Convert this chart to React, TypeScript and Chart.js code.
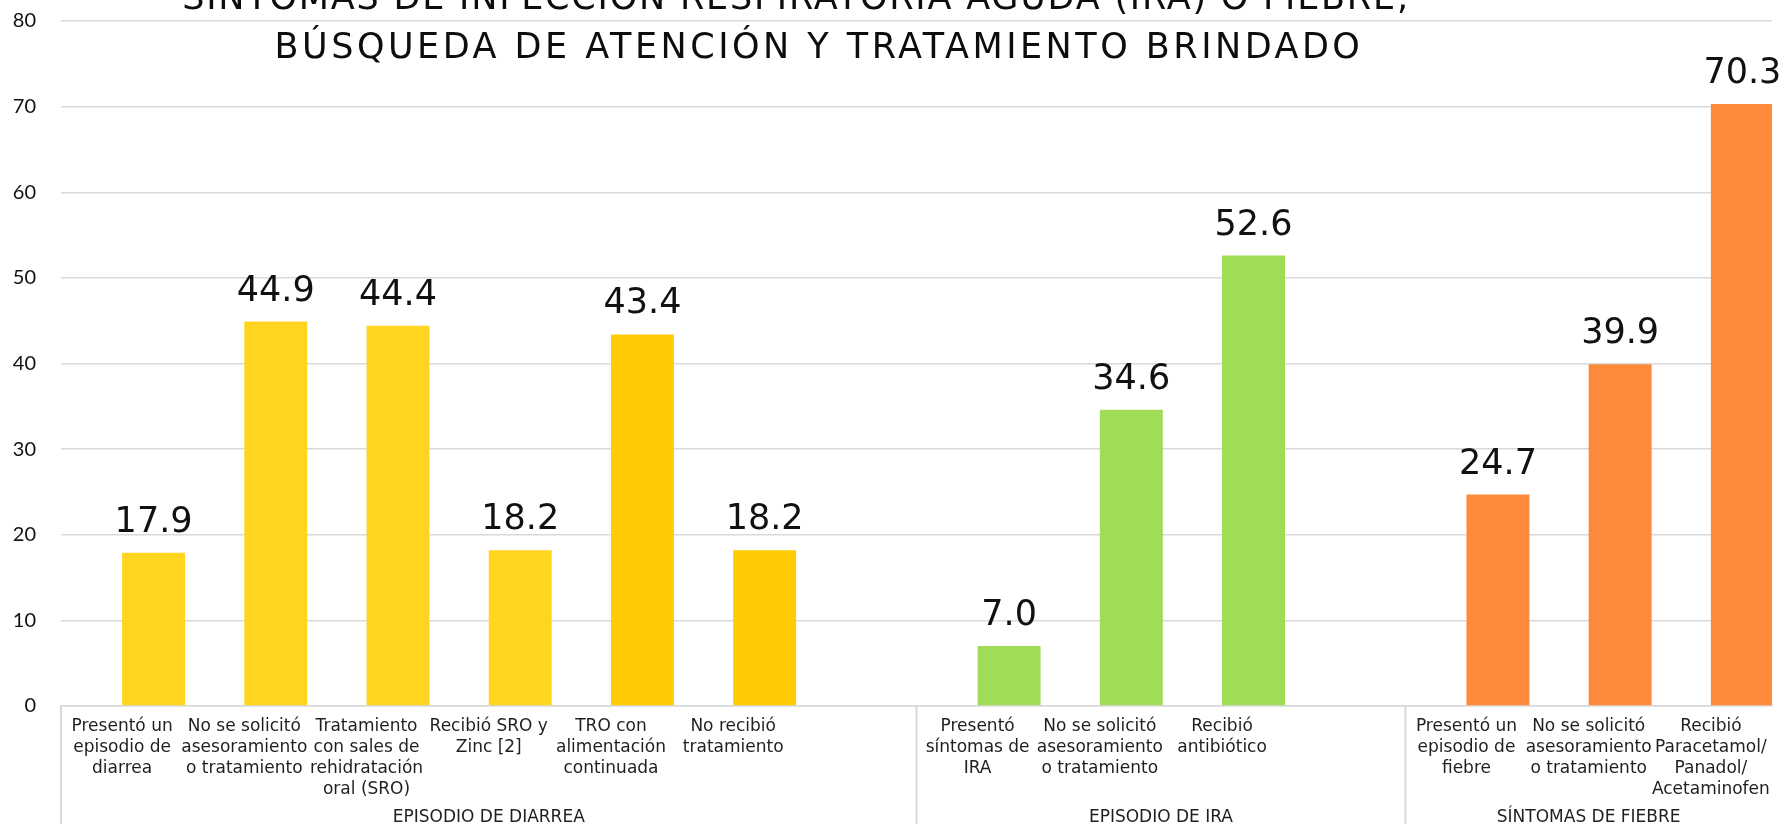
import React, { useEffect, useRef } from "react";
import { Chart, registerables } from "chart.js";

Chart.register(...registerables);

const titleLines = [
  "SÍNTOMAS DE INFECCIÓN RESPIRATORIA AGUDA (IRA) O FIEBRE,",
  "BÚSQUEDA DE ATENCIÓN Y TRATAMIENTO BRINDADO",
];

const categories: string[][] = [
  ["Presentó un", "episodio de", "diarrea"],
  ["No se solicitó", "asesoramiento", "o tratamiento"],
  ["Tratamiento", "con sales de", "rehidratación", "oral (SRO)"],
  ["Recibió SRO y", "Zinc [2]"],
  ["TRO con", "alimentación", "continuada"],
  ["No recibió", "tratamiento"],
  [""],
  ["Presentó", "síntomas de", "IRA"],
  ["No se solicitó", "asesoramiento", "o tratamiento"],
  ["Recibió", "antibiótico"],
  [""],
  ["Presentó un", "episodio de", "fiebre"],
  ["No se solicitó", "asesoramiento", "o tratamiento"],
  ["Recibió", "Paracetamol/", "Panadol/", "Acetaminofen"],
];

const values: (number | null)[] = [
  17.9, 44.9, 44.4, 18.2, 43.4, 18.2, null,
  7.0, 34.6, 52.6, null,
  24.7, 39.9, 70.3,
];

const barColors = [
  "#FFD520", "#FFD520", "#FFD520", "#FFD520", "#FFCB05", "#FFCB05", "#FFD520",
  "#A0DD56", "#A0DD56", "#A0DD56", "#A0DD56",
  "#FD893B", "#FD893B", "#FD893B",
];

const groupLabels = ["EPISODIO DE DIARREA", "EPISODIO DE IRA", "SÍNTOMAS DE FIEBRE"];
const groupSizes = [7, 4, 3];

const yMin = 0;
const yMax = 80;
const yStep = 10;

const TEXT = "#1f1f1f";
const GRID = "#d9d9d9";

const overlayPlugin = {
  id: "overlay",
  afterDatasetsDraw(chart: any) {
    const ctx = chart.ctx;
    const meta = chart.getDatasetMeta(1);
    ctx.save();
    ctx.font = '35px "DejaVu Sans"';
    ctx.fillStyle = "#111111";
    ctx.textAlign = "center";
    ctx.textBaseline = "alphabetic";
    meta.data.forEach((el: any, i: number) => {
      const v = values[i];
      if (v == null) return;
      ctx.fillText(v.toFixed(1), el.x, el.y - 21);
    });
    ctx.restore();
  },
  afterDraw(chart: any) {
    const ctx = chart.ctx;
    const xs = chart.scales.x;
    const area = chart.chartArea;
    const slot = (xs.right - xs.left) / categories.length;
    ctx.save();
    ctx.strokeStyle = GRID;
    ctx.lineWidth = 2;
    let cum = 0;
    groupSizes.forEach((size, gi) => {
      const x0 = xs.left + slot * cum;
      ctx.beginPath();
      ctx.moveTo(x0, area.bottom);
      ctx.lineTo(x0, chart.height);
      ctx.stroke();
      const cx = xs.left + slot * (cum + size / 2);
      ctx.font = '17px "DejaVu Sans"';
      ctx.fillStyle = TEXT;
      ctx.textAlign = "center";
      ctx.textBaseline = "alphabetic";
      ctx.fillText(groupLabels[gi], cx, 822);
      cum += size;
    });
    ctx.font = '35px "DejaVu Sans"';
    ctx.fillStyle = "#0d0d0d";
    ctx.textAlign = "center";
    ctx.textBaseline = "alphabetic";
    (ctx as any).letterSpacing = "1.8px";
    ctx.fillText(titleLines[0], 796, 9);
    (ctx as any).letterSpacing = "3.5px";
    ctx.fillText(titleLines[1], 819, 58);
    ctx.restore();
  },
};

export default function App() {
  const ref = useRef<HTMLCanvasElement | null>(null);
  useEffect(() => {
    if (!ref.current) return;
    const chart = new Chart(ref.current, {
      type: "bar",
      data: {
        labels: categories,
        datasets: [
          {
            label: "spacer",
            data: categories.map(() => null),
            backgroundColor: "transparent",
          },
          {
            label: "valor",
            data: values,
            backgroundColor: barColors,
            borderWidth: 0,
          },
        ],
      },
      options: {
        animation: false,
        responsive: false,
        maintainAspectRatio: false,
        categoryPercentage: 1.03,
        barPercentage: 1,
        layout: { padding: { left: 0, right: 7, top: 21, bottom: 0 } },
        plugins: {
          legend: { display: false },
          title: { display: false },
          tooltip: { enabled: false },
        },
        scales: {
          x: {
            offset: true,
            grid: { display: false },
            border: { display: true, color: GRID, width: 1.5 },
            ticks: {
              autoSkip: false,
              maxRotation: 0,
              minRotation: 0,
              padding: 2,
              color: TEXT,
              font: { family: "DejaVu Sans", size: 17, lineHeight: 1.24 },
            },
            afterFit: (s: any) => {
              s.height = 118;
              s.paddingLeft = 0;
              s.paddingRight = 0;
            },
          },
          y: {
            min: yMin,
            max: yMax,
            ticks: {
              stepSize: yStep,
              padding: 25,
              color: "#111111",
              font: { family: "Lato", size: 20 },
            },
            grid: { color: GRID, lineWidth: 1.5, drawTicks: false },
            border: { display: false },
            afterFit: (s: any) => {
              s.width = 61;
              s.paddingTop = 0;
              s.paddingBottom = 0;
            },
          },
        },
      } as any,
      plugins: [overlayPlugin],
    });
    return () => chart.destroy();
  }, []);
  return (
    <div style={{ position: "absolute", left: 0, top: 0, width: 1779, height: 824, background: "#fff" }}>
      <canvas ref={ref} width={1779} height={824} />
    </div>
  );
}
